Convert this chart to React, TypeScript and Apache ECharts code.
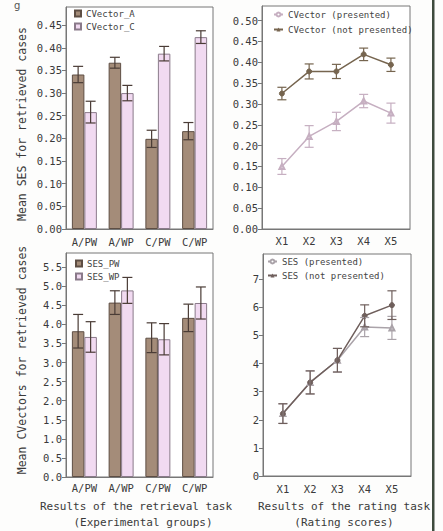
import React, { useEffect, useRef } from "react";
import * as echarts from "echarts";

// ---- data ----
const groups = ["A/PW", "A/WP", "C/PW", "C/WP"];
const cvectorA = [0.341, 0.367, 0.199, 0.216];
const cvectorAErr = [0.018, 0.012, 0.019, 0.019];
const cvectorC = [0.258, 0.3, 0.387, 0.4235];
const cvectorCErr = [0.024, 0.017, 0.016, 0.014];

const ratings = ["X1", "X2", "X3", "X4", "X5"];
const cvPresented = [0.15, 0.222, 0.258, 0.307, 0.278];
const cvPresentedErr = [0.019, 0.026, 0.022, 0.016, 0.024];
const cvNotPresented = [0.325, 0.378, 0.378, 0.419, 0.394];
const cvNotPresentedErr = [0.015, 0.018, 0.017, 0.015, 0.016];

const sesPW = [3.82, 4.57, 3.65, 4.17];
const sesPWErr = [0.44, 0.31, 0.39, 0.36];
const sesWP = [3.67, 4.89, 3.61, 4.56];
const sesWPErr = [0.4, 0.34, 0.41, 0.42];

const sesPresented = [2.22, 3.33, 4.12, 5.3, 5.27];
const sesPresentedErr = [0.35, 0.41, 0.42, 0.34, 0.41];
const sesNotPresented = [2.22, 3.33, 4.12, 5.7, 6.08];
const sesNotPresentedErr = [0.35, 0.41, 0.42, 0.39, 0.51];

const ticksTL = [0, 0.05, 0.1, 0.15, 0.2, 0.25, 0.3, 0.35, 0.4, 0.45];
const ticksTR = [0, 0.05, 0.1, 0.15, 0.2, 0.25, 0.3, 0.35, 0.4, 0.45, 0.5];
const ticksBL = [0, 0.5, 1, 1.5, 2, 2.5, 3, 3.5, 4, 4.5, 5, 5.5];
const ticksBR = [0, 1, 2, 3, 4, 5, 6, 7];
const ratingTicks = [1, 2, 3, 4, 5];

const MONO = "DejaVu Sans Mono";
const TXT = "#3a3a3a";
const FRAME = "#777777";
const BROWN = "#a48c79";
const BROWN_B = "#5e4e44";
const PINK = "#f1daf1";
const PINK_B = "#8a7a8a";

const errRender =
  (color: string, offsetFrac: number, capW: number) => (params: any, api: any) => {
    const x = api.value(0);
    const lo = api.value(1);
    const hi = api.value(2);
    const a = api.coord([x, hi]);
    const b = api.coord([x, lo]);
    let cx = a[0];
    if (offsetFrac) cx += api.size([1, 0])[0] * offsetFrac;
    const st = { stroke: color, lineWidth: 1.2 };
    return {
      type: "group",
      children: [
        { type: "line", shape: { x1: cx, y1: a[1], x2: cx, y2: b[1] }, style: st },
        { type: "line", shape: { x1: cx - capW / 2, y1: a[1], x2: cx + capW / 2, y2: a[1] }, style: st },
        { type: "line", shape: { x1: cx - capW / 2, y1: b[1], x2: cx + capW / 2, y2: b[1] }, style: st },
      ],
    };
  };

const catErr = (vals: number[], errs: number[]) => vals.map((v, i) => [i, v - errs[i], v + errs[i]]);
const numErr = (vals: number[], errs: number[]) => vals.map((v, i) => [i + 1, v - errs[i], v + errs[i]]);

const yAxisBase = (grid: number, max: number, ticks: number[], step: number, digits: number) => ({
  type: "value",
  gridIndex: grid,
  min: 0,
  max,
  interval: step,
  axisLine: { show: true, lineStyle: { color: FRAME } },
  axisTick: { show: true, length: 4, lineStyle: { color: FRAME }, customValues: ticks },
  splitLine: { show: false },
  axisLabel: {
    customValues: ticks,
    margin: 4,
    fontFamily: MONO,
    fontSize: 10.5,
    color: TXT,
    formatter: (v: number) =>
      Math.abs(v / step - Math.round(v / step)) < 1e-6 ? v.toFixed(digits) : "",
  },
});

const catAxis = (grid: number, margin: number) => ({
  type: "category",
  gridIndex: grid,
  data: groups,
  axisLine: { show: true, lineStyle: { color: FRAME } },
  axisTick: { show: false },
  axisLabel: { margin, fontFamily: MONO, fontSize: 10.5, color: TXT, interval: 0 },
});

const ratingAxis = (grid: number, margin: number) => ({
  type: "value",
  gridIndex: grid,
  min: 0.27,
  max: 5.7,
  axisLine: { show: true, lineStyle: { color: FRAME } },
  axisTick: { show: false },
  splitLine: { show: false },
  axisLabel: {
    customValues: ratingTicks,
    margin,
    fontFamily: MONO,
    fontSize: 10.5,
    color: TXT,
    formatter: (v: number) => {
      const r = Math.round(v);
      return Math.abs(v - r) < 1e-6 && r >= 1 && r <= ratings.length ? ratings[r - 1] : "";
    },
  },
});

const lineSeries = (
  name: string,
  vals: number[],
  grid: number,
  color: string,
  legendSymbol: string,
  plotSymbol: string,
  size: number
) => ({
  type: "line",
  name,
  xAxisIndex: grid,
  yAxisIndex: grid,
  symbol: legendSymbol,
  symbolSize: size,
  lineStyle: { color, width: 1.5 },
  itemStyle: { color, borderColor: color },
  data: vals.map((v, i) => ({ value: [i + 1, v], symbol: plotSymbol })),
  z: 3,
});

const barSeries = (name: string, vals: number[], grid: number, fill: string, border: string) => ({
  type: "bar",
  name,
  xAxisIndex: grid,
  yAxisIndex: grid,
  barGap: "0%",
  barCategoryGap: "32%",
  itemStyle: { color: fill, borderColor: border, borderWidth: 1 },
  data: vals,
});

const errSeries = (data: number[][], grid: number, color: string, off: number, cap: number) => ({
  type: "custom",
  xAxisIndex: grid,
  yAxisIndex: grid,
  renderItem: errRender(color, off, cap),
  encode: { x: 0, y: [1, 2] },
  data,
  z: 5,
  silent: true,
});

const legendText = { fontFamily: MONO, fontSize: 9, color: "#444" };

const CV_P = "#c6afc1";
const CV_N = "#76654f";
const SES_P = "#aaa3a9";
const SES_N = "#6f5f5c";

export default function App() {
  const ref = useRef<HTMLDivElement>(null);
  useEffect(() => {
    document.body.style.margin = "0";
    const chart = echarts.init(ref.current!, null, { renderer: "svg" });
    const option: any = {
      animation: false,
      backgroundColor: "#fdfdfc",
      grid: [
        { left: 66, top: 7, width: 147, height: 222, show: true, borderColor: FRAME, borderWidth: 1, backgroundColor: "#fff" },
        { left: 262, top: 6, width: 148, height: 223, show: true, borderColor: FRAME, borderWidth: 1, backgroundColor: "#fff" },
        { left: 66, top: 253, width: 147, height: 224, show: true, borderColor: FRAME, borderWidth: 1, backgroundColor: "#fff" },
        { left: 263, top: 254, width: 148, height: 222, show: true, borderColor: FRAME, borderWidth: 1, backgroundColor: "#fff" },
      ],
      xAxis: [catAxis(0, 7), ratingAxis(1, 6), catAxis(2, 5), ratingAxis(3, 7)],
      yAxis: [
        yAxisBase(0, 0.49, ticksTL, 0.05, 2),
        yAxisBase(1, 0.535, ticksTR, 0.05, 2),
        yAxisBase(2, 5.87, ticksBL, 0.5, 1),
        yAxisBase(3, 7.9, ticksBR, 1, 0),
      ],
      legend: [
        {
          data: ["CVector_A", "CVector_C"],
          orient: "vertical",
          left: 74,
          top: 9,
          itemWidth: 6,
          itemHeight: 6,
          itemGap: 4,
          icon: "rect",
          textStyle: legendText,
          padding: 0,
        },
        {
          data: ["CVector (presented)", "CVector (not presented)"],
          orient: "vertical",
          left: 273,
          top: 10,
          itemWidth: 9,
          itemHeight: 5,
          itemGap: 6,
          textStyle: legendText,
          padding: 0,
        },
        {
          data: ["SES_PW", "SES_WP"],
          orient: "vertical",
          left: 75,
          top: 259,
          itemWidth: 6,
          itemHeight: 6,
          itemGap: 4,
          icon: "rect",
          textStyle: legendText,
          padding: 0,
        },
        {
          data: ["SES (presented)", "SES (not presented)"],
          orient: "vertical",
          left: 267,
          top: 257,
          itemWidth: 9,
          itemHeight: 5,
          itemGap: 5,
          textStyle: legendText,
          padding: 0,
        },
      ],
      series: [
        barSeries("CVector_A", cvectorA, 0, BROWN, BROWN_B),
        barSeries("CVector_C", cvectorC, 0, PINK, PINK_B),
        errSeries(catErr(cvectorA, cvectorAErr), 0, "#4a3c36", -0.17, 10),
        errSeries(catErr(cvectorC, cvectorCErr), 0, "#4a3c36", 0.17, 10),

        lineSeries("CVector (presented)", cvPresented, 1, CV_P, "emptyCircle", "emptyTriangle", 5),
        lineSeries("CVector (not presented)", cvNotPresented, 1, CV_N, "triangle", "circle", 5),
        errSeries(numErr(cvPresented, cvPresentedErr), 1, CV_P, 0, 9),
        errSeries(numErr(cvNotPresented, cvNotPresentedErr), 1, CV_N, 0, 9),

        barSeries("SES_PW", sesPW, 2, BROWN, BROWN_B),
        barSeries("SES_WP", sesWP, 2, PINK, PINK_B),
        errSeries(catErr(sesPW, sesPWErr), 2, "#4a3c36", -0.17, 10),
        errSeries(catErr(sesWP, sesWPErr), 2, "#4a3c36", 0.17, 10),

        lineSeries("SES (presented)", sesPresented, 3, SES_P, "emptyCircle", "emptyTriangle", 5),
        lineSeries("SES (not presented)", sesNotPresented, 3, SES_N, "triangle", "circle", 5),
        errSeries(numErr(sesPresented, sesPresentedErr), 3, SES_P, 0, 9),
        errSeries(numErr(sesNotPresented, sesNotPresentedErr), 3, SES_N, 0, 9),
      ],
      graphic: [
        { type: "text", x: 14, y: 0, style: { text: "g", font: "10px 'DejaVu Sans'", fill: "#555", verticalAlign: "top" } },
        { type: "rect", x: 432, y: 0, shape: { width: 2.5, height: 531 }, style: { fill: "#3e4b3e" } },
        {
          type: "text",
          x: 22,
          y: 124,
          rotation: Math.PI / 2,
          style: { text: "Mean SES for retrieved cases", font: `11.5px '${MONO}'`, fill: TXT, align: "center", verticalAlign: "middle" },
        },
        {
          type: "text",
          x: 22,
          y: 360,
          rotation: Math.PI / 2,
          style: { text: "Mean CVectors for retrieved cases", font: `11.5px '${MONO}'`, fill: TXT, align: "center", verticalAlign: "middle" },
        },
        {
          type: "text",
          x: 136,
          y: 506,
          style: { text: "Results of the retrieval task", font: `11px '${MONO}'`, fill: TXT, align: "center", verticalAlign: "middle" },
        },
        {
          type: "text",
          x: 143,
          y: 522,
          style: { text: "(Experimental groups)", font: `11px '${MONO}'`, fill: TXT, align: "center", verticalAlign: "middle" },
        },
        {
          type: "text",
          x: 344,
          y: 506,
          style: { text: "Results of the rating task", font: `11px '${MONO}'`, fill: TXT, align: "center", verticalAlign: "middle" },
        },
        {
          type: "text",
          x: 344,
          y: 522,
          style: { text: "(Rating scores)", font: `11px '${MONO}'`, fill: TXT, align: "center", verticalAlign: "middle" },
        },
      ],
    };
    chart.setOption(option);
    return () => chart.dispose();
  }, []);
  return <div ref={ref} style={{ width: 443, height: 531 }} />;
}
